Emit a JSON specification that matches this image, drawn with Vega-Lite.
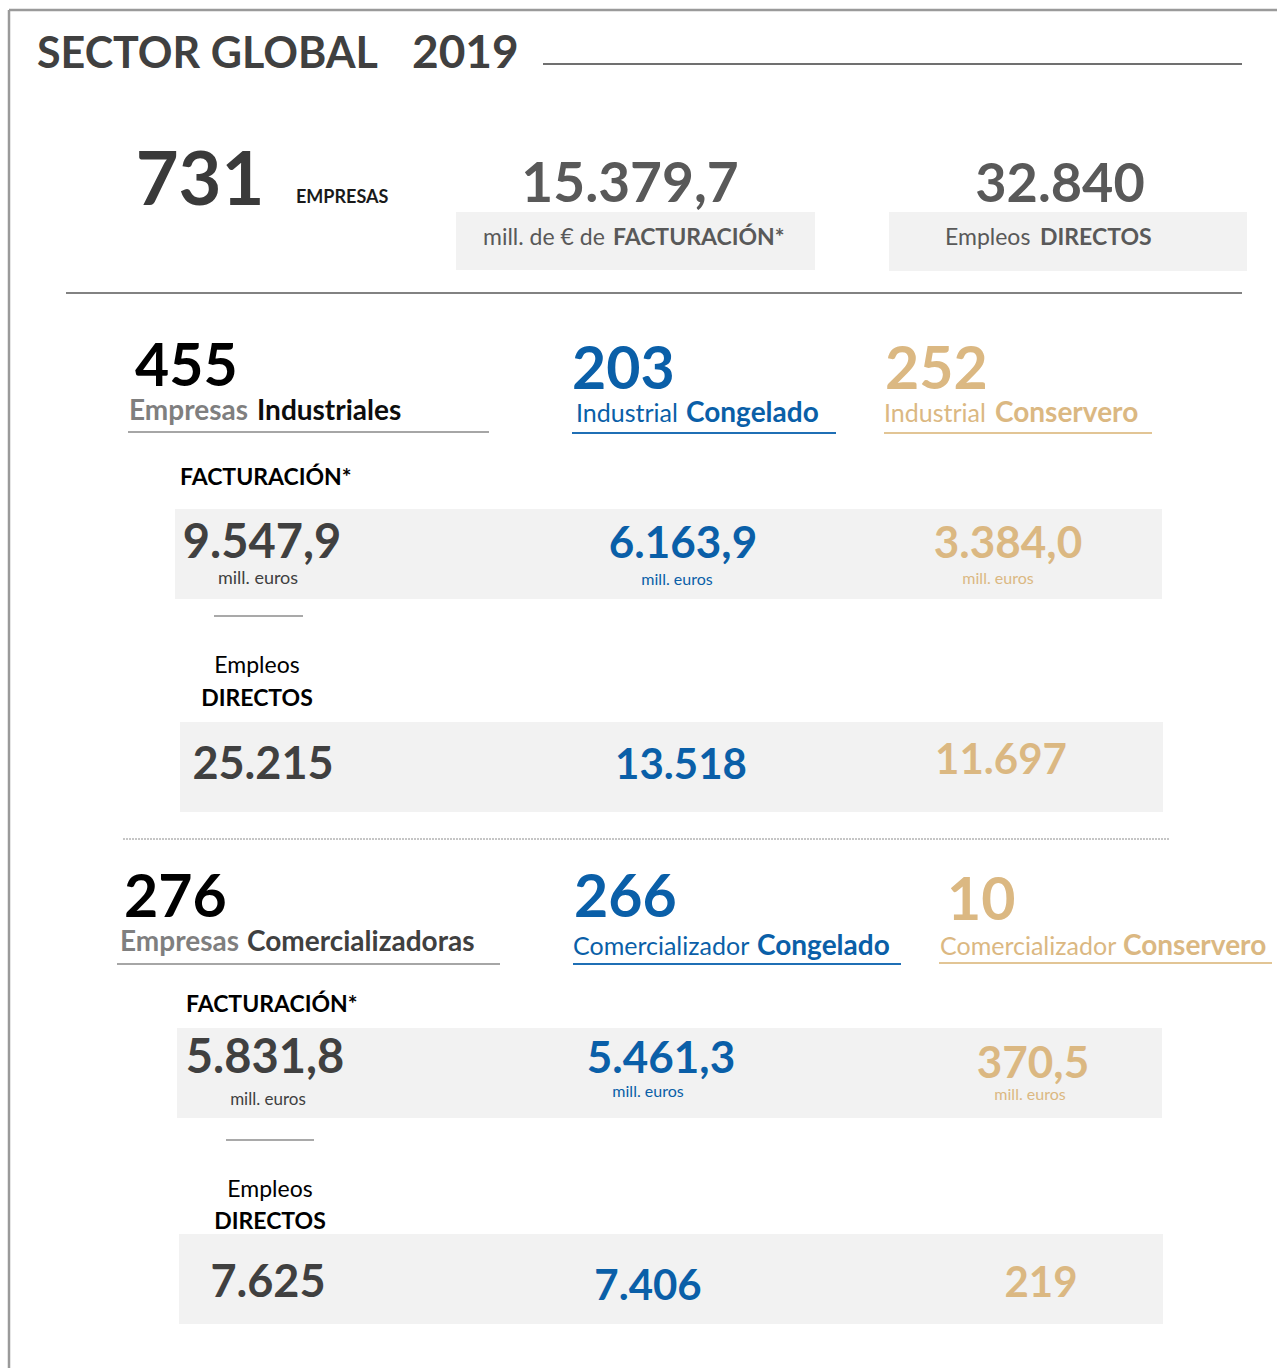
{
"$schema":"https://vega.github.io/schema/vega-lite/v6.json",
"width":1277,"height":1368,"autosize":"none","padding":0,"background":"white",
"config":{"view":{"stroke":null},"axis":{"disable":true},"text":{"font":"Lato"},
"locale":{"number":{"decimal":",","thousands":".","grouping":[3],"currency":[""," €"]}}},
"datasets":{
"portada":[{"titulo":"SECTOR GLOBAL","anio":"2019"}],
"global":[{"indicador":"Empresas","valor":731},{"indicador":"Facturación","valor":15379.7},{"indicador":"Empleos","valor":32840}],
"grupos":[
{"actividad":"Industrial","segmento":"Total","empresas":455,"facturacion":9547.9,"empleos":25215},
{"actividad":"Industrial","segmento":"Congelado","empresas":203,"facturacion":6163.9,"empleos":13518},
{"actividad":"Industrial","segmento":"Conservero","empresas":252,"facturacion":3384.0,"empleos":11697},
{"actividad":"Comercializador","segmento":"Total","empresas":276,"facturacion":5831.8,"empleos":7625},
{"actividad":"Comercializador","segmento":"Congelado","empresas":266,"facturacion":5461.3,"empleos":7406},
{"actividad":"Comercializador","segmento":"Conservero","empresas":10,"facturacion":370.5,"empleos":219}]},
"data":{"name":"portada"},
"layer":[
{"mark":{"type":"rect","color":"#f2f2f2"},"encoding":{"x":{"datum":456,"type":"quantitative","scale":{"domain":[0,1277]}},"x2":{"datum":815},"y":{"datum":212,"type":"quantitative","scale":{"domain":[1368,0]}},"y2":{"datum":270}}},
{"mark":{"type":"rect","color":"#f2f2f2"},"encoding":{"x":{"datum":889,"type":"quantitative","scale":{"domain":[0,1277]}},"x2":{"datum":1247},"y":{"datum":212,"type":"quantitative","scale":{"domain":[1368,0]}},"y2":{"datum":271}}},
{"mark":{"type":"rect","color":"#f2f2f2"},"encoding":{"x":{"datum":175,"type":"quantitative","scale":{"domain":[0,1277]}},"x2":{"datum":1162},"y":{"datum":509,"type":"quantitative","scale":{"domain":[1368,0]}},"y2":{"datum":599}}},
{"mark":{"type":"rect","color":"#f2f2f2"},"encoding":{"x":{"datum":180,"type":"quantitative","scale":{"domain":[0,1277]}},"x2":{"datum":1163},"y":{"datum":722,"type":"quantitative","scale":{"domain":[1368,0]}},"y2":{"datum":812}}},
{"mark":{"type":"rect","color":"#f2f2f2"},"encoding":{"x":{"datum":177,"type":"quantitative","scale":{"domain":[0,1277]}},"x2":{"datum":1162},"y":{"datum":1028,"type":"quantitative","scale":{"domain":[1368,0]}},"y2":{"datum":1118}}},
{"mark":{"type":"rect","color":"#f2f2f2"},"encoding":{"x":{"datum":179,"type":"quantitative","scale":{"domain":[0,1277]}},"x2":{"datum":1163},"y":{"datum":1234,"type":"quantitative","scale":{"domain":[1368,0]}},"y2":{"datum":1324}}},

{"mark":{"type":"rule","color":"#9a9a9a","strokeWidth":2.5},"encoding":{"x":{"datum":9,"type":"quantitative","scale":{"domain":[0,1277]}},"x2":{"datum":1277},"y":{"datum":10,"type":"quantitative","scale":{"domain":[1368,0]}}}},
{"mark":{"type":"rule","color":"#9a9a9a","strokeWidth":2.5},"encoding":{"x":{"datum":9,"type":"quantitative","scale":{"domain":[0,1277]}},"y":{"datum":10,"type":"quantitative","scale":{"domain":[1368,0]}},"y2":{"datum":1368}}},
{"mark":{"type":"rule","color":"#404040","strokeWidth":1.5},"encoding":{"x":{"datum":543,"type":"quantitative","scale":{"domain":[0,1277]}},"x2":{"datum":1242},"y":{"datum":64,"type":"quantitative","scale":{"domain":[1368,0]}}}},
{"mark":{"type":"rule","color":"#595959","strokeWidth":1.5},"encoding":{"x":{"datum":66,"type":"quantitative","scale":{"domain":[0,1277]}},"x2":{"datum":1242},"y":{"datum":293,"type":"quantitative","scale":{"domain":[1368,0]}}}},
{"mark":{"type":"rule","color":"#a6a6a6","strokeWidth":2},"encoding":{"x":{"datum":128,"type":"quantitative","scale":{"domain":[0,1277]}},"x2":{"datum":489},"y":{"datum":432,"type":"quantitative","scale":{"domain":[1368,0]}}}},
{"mark":{"type":"rule","color":"#1f6fb5","strokeWidth":2},"encoding":{"x":{"datum":572,"type":"quantitative","scale":{"domain":[0,1277]}},"x2":{"datum":836},"y":{"datum":433,"type":"quantitative","scale":{"domain":[1368,0]}}}},
{"mark":{"type":"rule","color":"#e2c595","strokeWidth":2},"encoding":{"x":{"datum":884,"type":"quantitative","scale":{"domain":[0,1277]}},"x2":{"datum":1152},"y":{"datum":433,"type":"quantitative","scale":{"domain":[1368,0]}}}},
{"mark":{"type":"rule","color":"#8c8c8c","strokeWidth":1.5},"encoding":{"x":{"datum":214,"type":"quantitative","scale":{"domain":[0,1277]}},"x2":{"datum":303},"y":{"datum":616,"type":"quantitative","scale":{"domain":[1368,0]}}}},
{"mark":{"type":"rule","color":"#8c8c8c","strokeWidth":1,"strokeDash":[2,1]},"encoding":{"x":{"datum":123,"type":"quantitative","scale":{"domain":[0,1277]}},"x2":{"datum":1170},"y":{"datum":839,"type":"quantitative","scale":{"domain":[1368,0]}}}},
{"mark":{"type":"rule","color":"#a6a6a6","strokeWidth":2},"encoding":{"x":{"datum":117,"type":"quantitative","scale":{"domain":[0,1277]}},"x2":{"datum":500},"y":{"datum":964,"type":"quantitative","scale":{"domain":[1368,0]}}}},
{"mark":{"type":"rule","color":"#1f6fb5","strokeWidth":2},"encoding":{"x":{"datum":573,"type":"quantitative","scale":{"domain":[0,1277]}},"x2":{"datum":901},"y":{"datum":964,"type":"quantitative","scale":{"domain":[1368,0]}}}},
{"mark":{"type":"rule","color":"#e2c595","strokeWidth":2},"encoding":{"x":{"datum":939,"type":"quantitative","scale":{"domain":[0,1277]}},"x2":{"datum":1272},"y":{"datum":963,"type":"quantitative","scale":{"domain":[1368,0]}}}},
{"mark":{"type":"rule","color":"#8c8c8c","strokeWidth":1.5},"encoding":{"x":{"datum":226,"type":"quantitative","scale":{"domain":[0,1277]}},"x2":{"datum":314},"y":{"datum":1140,"type":"quantitative","scale":{"domain":[1368,0]}}}},

{"mark":{"type":"text","align":"left","baseline":"alphabetic","fontSize":43,"fontWeight":"bold","color":"#404040"},"encoding":{"x":{"datum":37,"type":"quantitative","scale":{"domain":[0,1277]}},"y":{"datum":68,"type":"quantitative","scale":{"domain":[1368,0]}},"text":{"field":"titulo"}}},
{"mark":{"type":"text","align":"left","baseline":"alphabetic","fontSize":46,"fontWeight":"bold","color":"#404040"},"encoding":{"x":{"datum":412,"type":"quantitative","scale":{"domain":[0,1277]}},"y":{"datum":68,"type":"quantitative","scale":{"domain":[1368,0]}},"text":{"field":"anio"}}},

{"data":{"name":"global"},"transform":[{"filter":"datum.indicador=='Empresas'"}],"mark":{"type":"text","align":"center","baseline":"alphabetic","fontSize":74,"fontWeight":"bold","color":"#3a3a3a"},"encoding":{"x":{"datum":200,"type":"quantitative","scale":{"domain":[0,1277]}},"y":{"datum":205,"type":"quantitative","scale":{"domain":[1368,0]}},"text":{"field":"valor","type":"quantitative","format":",d"}}},
{"mark":{"type":"text","align":"left","baseline":"alphabetic","fontSize":18,"fontWeight":"bold","color":"#1a1a1a","text":"EMPRESAS"},"encoding":{"x":{"datum":296,"type":"quantitative","scale":{"domain":[0,1277]}},"y":{"datum":203,"type":"quantitative","scale":{"domain":[1368,0]}}}},
{"data":{"name":"global"},"transform":[{"filter":"datum.indicador=='Facturación'"}],"mark":{"type":"text","align":"center","baseline":"alphabetic","fontSize":55,"fontWeight":"bold","color":"#595959"},"encoding":{"x":{"datum":630,"type":"quantitative","scale":{"domain":[0,1277]}},"y":{"datum":202,"type":"quantitative","scale":{"domain":[1368,0]}},"text":{"field":"valor","type":"quantitative","format":",.1f"}}},
{"mark":{"type":"text","align":"left","baseline":"alphabetic","fontSize":23,"color":"#595959","text":"mill. de € de"},"encoding":{"x":{"datum":483,"type":"quantitative","scale":{"domain":[0,1277]}},"y":{"datum":245,"type":"quantitative","scale":{"domain":[1368,0]}}}},
{"mark":{"type":"text","align":"left","baseline":"alphabetic","fontSize":23,"fontWeight":"bold","color":"#595959","text":"FACTURACIÓN*"},"encoding":{"x":{"datum":613,"type":"quantitative","scale":{"domain":[0,1277]}},"y":{"datum":245,"type":"quantitative","scale":{"domain":[1368,0]}}}},
{"data":{"name":"global"},"transform":[{"filter":"datum.indicador=='Empleos'"}],"mark":{"type":"text","align":"center","baseline":"alphabetic","fontSize":54,"fontWeight":"bold","color":"#595959"},"encoding":{"x":{"datum":1060,"type":"quantitative","scale":{"domain":[0,1277]}},"y":{"datum":202,"type":"quantitative","scale":{"domain":[1368,0]}},"text":{"field":"valor","type":"quantitative","format":",d"}}},
{"mark":{"type":"text","align":"left","baseline":"alphabetic","fontSize":23,"color":"#595959","text":"Empleos"},"encoding":{"x":{"datum":945,"type":"quantitative","scale":{"domain":[0,1277]}},"y":{"datum":245,"type":"quantitative","scale":{"domain":[1368,0]}}}},
{"mark":{"type":"text","align":"left","baseline":"alphabetic","fontSize":23,"fontWeight":"bold","color":"#595959","text":"DIRECTOS"},"encoding":{"x":{"datum":1040,"type":"quantitative","scale":{"domain":[0,1277]}},"y":{"datum":245,"type":"quantitative","scale":{"domain":[1368,0]}}}},

{"data":{"name":"grupos"},"transform":[{"filter":"datum.actividad=='Industrial'&&datum.segmento=='Total'"}],"mark":{"type":"text","align":"left","baseline":"alphabetic","fontSize":59,"fontWeight":"bold","color":"#000000"},"encoding":{"x":{"datum":135,"type":"quantitative","scale":{"domain":[0,1277]}},"y":{"datum":386,"type":"quantitative","scale":{"domain":[1368,0]}},"text":{"field":"empresas","type":"quantitative","format":",d"}}},
{"mark":{"type":"text","align":"left","baseline":"alphabetic","fontSize":28,"fontWeight":"bold","color":"#7f7f7f","text":"Empresas"},"encoding":{"x":{"datum":129,"type":"quantitative","scale":{"domain":[0,1277]}},"y":{"datum":420,"type":"quantitative","scale":{"domain":[1368,0]}}}},
{"mark":{"type":"text","align":"left","baseline":"alphabetic","fontSize":28,"fontWeight":"bold","color":"#0d0d0d","text":"Industriales"},"encoding":{"x":{"datum":257,"type":"quantitative","scale":{"domain":[0,1277]}},"y":{"datum":420,"type":"quantitative","scale":{"domain":[1368,0]}}}},
{"data":{"name":"grupos"},"transform":[{"filter":"datum.actividad=='Industrial'&&datum.segmento=='Congelado'"}],"mark":{"type":"text","align":"left","baseline":"alphabetic","fontSize":59,"fontWeight":"bold","color":"#0a5fa8"},"encoding":{"x":{"datum":572,"type":"quantitative","scale":{"domain":[0,1277]}},"y":{"datum":389,"type":"quantitative","scale":{"domain":[1368,0]}},"text":{"field":"empresas","type":"quantitative","format":",d"}}},
{"mark":{"type":"text","align":"left","baseline":"alphabetic","fontSize":25,"color":"#0a5fa8","text":"Industrial"},"encoding":{"x":{"datum":576,"type":"quantitative","scale":{"domain":[0,1277]}},"y":{"datum":422,"type":"quantitative","scale":{"domain":[1368,0]}}}},
{"mark":{"type":"text","align":"left","baseline":"alphabetic","fontSize":28,"fontWeight":"bold","color":"#0a5fa8","text":"Congelado"},"encoding":{"x":{"datum":686,"type":"quantitative","scale":{"domain":[0,1277]}},"y":{"datum":422,"type":"quantitative","scale":{"domain":[1368,0]}}}},
{"data":{"name":"grupos"},"transform":[{"filter":"datum.actividad=='Industrial'&&datum.segmento=='Conservero'"}],"mark":{"type":"text","align":"left","baseline":"alphabetic","fontSize":59,"fontWeight":"bold","color":"#dbb882"},"encoding":{"x":{"datum":885,"type":"quantitative","scale":{"domain":[0,1277]}},"y":{"datum":389,"type":"quantitative","scale":{"domain":[1368,0]}},"text":{"field":"empresas","type":"quantitative","format":",d"}}},
{"mark":{"type":"text","align":"left","baseline":"alphabetic","fontSize":25,"color":"#dbb882","text":"Industrial"},"encoding":{"x":{"datum":884,"type":"quantitative","scale":{"domain":[0,1277]}},"y":{"datum":422,"type":"quantitative","scale":{"domain":[1368,0]}}}},
{"mark":{"type":"text","align":"left","baseline":"alphabetic","fontSize":28,"fontWeight":"bold","color":"#dbb882","text":"Conservero"},"encoding":{"x":{"datum":995,"type":"quantitative","scale":{"domain":[0,1277]}},"y":{"datum":422,"type":"quantitative","scale":{"domain":[1368,0]}}}},
{"mark":{"type":"text","align":"left","baseline":"alphabetic","fontSize":23,"fontWeight":"bold","color":"#000000","text":"FACTURACIÓN*"},"encoding":{"x":{"datum":180,"type":"quantitative","scale":{"domain":[0,1277]}},"y":{"datum":485,"type":"quantitative","scale":{"domain":[1368,0]}}}},
{"data":{"name":"grupos"},"transform":[{"filter":"datum.actividad=='Industrial'&&datum.segmento=='Total'"}],"mark":{"type":"text","align":"center","baseline":"alphabetic","fontSize":47,"fontWeight":"bold","color":"#404040"},"encoding":{"x":{"datum":262,"type":"quantitative","scale":{"domain":[0,1277]}},"y":{"datum":558,"type":"quantitative","scale":{"domain":[1368,0]}},"text":{"field":"facturacion","type":"quantitative","format":",.1f"}}},
{"mark":{"type":"text","align":"center","baseline":"alphabetic","fontSize":18,"color":"#404040","text":"mill. euros"},"encoding":{"x":{"datum":258,"type":"quantitative","scale":{"domain":[0,1277]}},"y":{"datum":584,"type":"quantitative","scale":{"domain":[1368,0]}}}},
{"data":{"name":"grupos"},"transform":[{"filter":"datum.actividad=='Industrial'&&datum.segmento=='Congelado'"}],"mark":{"type":"text","align":"center","baseline":"alphabetic","fontSize":44,"fontWeight":"bold","color":"#0a5fa8"},"encoding":{"x":{"datum":683,"type":"quantitative","scale":{"domain":[0,1277]}},"y":{"datum":558,"type":"quantitative","scale":{"domain":[1368,0]}},"text":{"field":"facturacion","type":"quantitative","format":",.1f"}}},
{"mark":{"type":"text","align":"center","baseline":"alphabetic","fontSize":16,"color":"#0a5fa8","text":"mill. euros"},"encoding":{"x":{"datum":677,"type":"quantitative","scale":{"domain":[0,1277]}},"y":{"datum":585,"type":"quantitative","scale":{"domain":[1368,0]}}}},
{"data":{"name":"grupos"},"transform":[{"filter":"datum.actividad=='Industrial'&&datum.segmento=='Conservero'"}],"mark":{"type":"text","align":"center","baseline":"alphabetic","fontSize":44,"fontWeight":"bold","color":"#dbb882"},"encoding":{"x":{"datum":1008,"type":"quantitative","scale":{"domain":[0,1277]}},"y":{"datum":558,"type":"quantitative","scale":{"domain":[1368,0]}},"text":{"field":"facturacion","type":"quantitative","format":",.1f"}}},
{"mark":{"type":"text","align":"center","baseline":"alphabetic","fontSize":16,"color":"#dbb882","text":"mill. euros"},"encoding":{"x":{"datum":998,"type":"quantitative","scale":{"domain":[0,1277]}},"y":{"datum":584,"type":"quantitative","scale":{"domain":[1368,0]}}}},
{"mark":{"type":"text","align":"center","baseline":"alphabetic","fontSize":23,"color":"#000000","text":"Empleos"},"encoding":{"x":{"datum":257,"type":"quantitative","scale":{"domain":[0,1277]}},"y":{"datum":673,"type":"quantitative","scale":{"domain":[1368,0]}}}},
{"mark":{"type":"text","align":"center","baseline":"alphabetic","fontSize":23,"fontWeight":"bold","color":"#000000","text":"DIRECTOS"},"encoding":{"x":{"datum":257,"type":"quantitative","scale":{"domain":[0,1277]}},"y":{"datum":706,"type":"quantitative","scale":{"domain":[1368,0]}}}},
{"data":{"name":"grupos"},"transform":[{"filter":"datum.actividad=='Industrial'&&datum.segmento=='Total'"}],"mark":{"type":"text","align":"center","baseline":"alphabetic","fontSize":45,"fontWeight":"bold","color":"#404040"},"encoding":{"x":{"datum":263,"type":"quantitative","scale":{"domain":[0,1277]}},"y":{"datum":779,"type":"quantitative","scale":{"domain":[1368,0]}},"text":{"field":"empleos","type":"quantitative","format":",d"}}},
{"data":{"name":"grupos"},"transform":[{"filter":"datum.actividad=='Industrial'&&datum.segmento=='Congelado'"}],"mark":{"type":"text","align":"center","baseline":"alphabetic","fontSize":42,"fontWeight":"bold","color":"#0a5fa8"},"encoding":{"x":{"datum":681,"type":"quantitative","scale":{"domain":[0,1277]}},"y":{"datum":779,"type":"quantitative","scale":{"domain":[1368,0]}},"text":{"field":"empleos","type":"quantitative","format":",d"}}},
{"data":{"name":"grupos"},"transform":[{"filter":"datum.actividad=='Industrial'&&datum.segmento=='Conservero'"}],"mark":{"type":"text","align":"center","baseline":"alphabetic","fontSize":42,"fontWeight":"bold","color":"#dbb882"},"encoding":{"x":{"datum":1001,"type":"quantitative","scale":{"domain":[0,1277]}},"y":{"datum":774,"type":"quantitative","scale":{"domain":[1368,0]}},"text":{"field":"empleos","type":"quantitative","format":",d"}}},

{"data":{"name":"grupos"},"transform":[{"filter":"datum.actividad=='Comercializador'&&datum.segmento=='Total'"}],"mark":{"type":"text","align":"left","baseline":"alphabetic","fontSize":59,"fontWeight":"bold","color":"#000000"},"encoding":{"x":{"datum":124,"type":"quantitative","scale":{"domain":[0,1277]}},"y":{"datum":917,"type":"quantitative","scale":{"domain":[1368,0]}},"text":{"field":"empresas","type":"quantitative","format":",d"}}},
{"mark":{"type":"text","align":"left","baseline":"alphabetic","fontSize":28,"fontWeight":"bold","color":"#7f7f7f","text":"Empresas"},"encoding":{"x":{"datum":120,"type":"quantitative","scale":{"domain":[0,1277]}},"y":{"datum":951,"type":"quantitative","scale":{"domain":[1368,0]}}}},
{"mark":{"type":"text","align":"left","baseline":"alphabetic","fontSize":28,"fontWeight":"bold","color":"#404040","text":"Comercializadoras"},"encoding":{"x":{"datum":247,"type":"quantitative","scale":{"domain":[0,1277]}},"y":{"datum":951,"type":"quantitative","scale":{"domain":[1368,0]}}}},
{"data":{"name":"grupos"},"transform":[{"filter":"datum.actividad=='Comercializador'&&datum.segmento=='Congelado'"}],"mark":{"type":"text","align":"left","baseline":"alphabetic","fontSize":59,"fontWeight":"bold","color":"#0a5fa8"},"encoding":{"x":{"datum":574,"type":"quantitative","scale":{"domain":[0,1277]}},"y":{"datum":917,"type":"quantitative","scale":{"domain":[1368,0]}},"text":{"field":"empresas","type":"quantitative","format":",d"}}},
{"mark":{"type":"text","align":"left","baseline":"alphabetic","fontSize":25,"color":"#0a5fa8","text":"Comercializador"},"encoding":{"x":{"datum":573,"type":"quantitative","scale":{"domain":[0,1277]}},"y":{"datum":955,"type":"quantitative","scale":{"domain":[1368,0]}}}},
{"mark":{"type":"text","align":"left","baseline":"alphabetic","fontSize":28,"fontWeight":"bold","color":"#0a5fa8","text":"Congelado"},"encoding":{"x":{"datum":757,"type":"quantitative","scale":{"domain":[0,1277]}},"y":{"datum":955,"type":"quantitative","scale":{"domain":[1368,0]}}}},
{"data":{"name":"grupos"},"transform":[{"filter":"datum.actividad=='Comercializador'&&datum.segmento=='Conservero'"}],"mark":{"type":"text","align":"left","baseline":"alphabetic","fontSize":59,"fontWeight":"bold","color":"#dbb882"},"encoding":{"x":{"datum":947,"type":"quantitative","scale":{"domain":[0,1277]}},"y":{"datum":920,"type":"quantitative","scale":{"domain":[1368,0]}},"text":{"field":"empresas","type":"quantitative","format":",d"}}},
{"mark":{"type":"text","align":"left","baseline":"alphabetic","fontSize":25,"color":"#dbb882","text":"Comercializador"},"encoding":{"x":{"datum":940,"type":"quantitative","scale":{"domain":[0,1277]}},"y":{"datum":955,"type":"quantitative","scale":{"domain":[1368,0]}}}},
{"mark":{"type":"text","align":"left","baseline":"alphabetic","fontSize":28,"fontWeight":"bold","color":"#dbb882","text":"Conservero"},"encoding":{"x":{"datum":1123,"type":"quantitative","scale":{"domain":[0,1277]}},"y":{"datum":955,"type":"quantitative","scale":{"domain":[1368,0]}}}},
{"mark":{"type":"text","align":"left","baseline":"alphabetic","fontSize":23,"fontWeight":"bold","color":"#000000","text":"FACTURACIÓN*"},"encoding":{"x":{"datum":186,"type":"quantitative","scale":{"domain":[0,1277]}},"y":{"datum":1012,"type":"quantitative","scale":{"domain":[1368,0]}}}},
{"data":{"name":"grupos"},"transform":[{"filter":"datum.actividad=='Comercializador'&&datum.segmento=='Total'"}],"mark":{"type":"text","align":"center","baseline":"alphabetic","fontSize":47,"fontWeight":"bold","color":"#404040"},"encoding":{"x":{"datum":265,"type":"quantitative","scale":{"domain":[0,1277]}},"y":{"datum":1073,"type":"quantitative","scale":{"domain":[1368,0]}},"text":{"field":"facturacion","type":"quantitative","format":",.1f"}}},
{"mark":{"type":"text","align":"center","baseline":"alphabetic","fontSize":17,"color":"#404040","text":"mill. euros"},"encoding":{"x":{"datum":268,"type":"quantitative","scale":{"domain":[0,1277]}},"y":{"datum":1105,"type":"quantitative","scale":{"domain":[1368,0]}}}},
{"data":{"name":"grupos"},"transform":[{"filter":"datum.actividad=='Comercializador'&&datum.segmento=='Congelado'"}],"mark":{"type":"text","align":"center","baseline":"alphabetic","fontSize":44,"fontWeight":"bold","color":"#0a5fa8"},"encoding":{"x":{"datum":661,"type":"quantitative","scale":{"domain":[0,1277]}},"y":{"datum":1073,"type":"quantitative","scale":{"domain":[1368,0]}},"text":{"field":"facturacion","type":"quantitative","format":",.1f"}}},
{"mark":{"type":"text","align":"center","baseline":"alphabetic","fontSize":16,"color":"#0a5fa8","text":"mill. euros"},"encoding":{"x":{"datum":648,"type":"quantitative","scale":{"domain":[0,1277]}},"y":{"datum":1097,"type":"quantitative","scale":{"domain":[1368,0]}}}},
{"data":{"name":"grupos"},"transform":[{"filter":"datum.actividad=='Comercializador'&&datum.segmento=='Conservero'"}],"mark":{"type":"text","align":"center","baseline":"alphabetic","fontSize":44,"fontWeight":"bold","color":"#dbb882"},"encoding":{"x":{"datum":1033,"type":"quantitative","scale":{"domain":[0,1277]}},"y":{"datum":1078,"type":"quantitative","scale":{"domain":[1368,0]}},"text":{"field":"facturacion","type":"quantitative","format":",.1f"}}},
{"mark":{"type":"text","align":"center","baseline":"alphabetic","fontSize":16,"color":"#dbb882","text":"mill. euros"},"encoding":{"x":{"datum":1030,"type":"quantitative","scale":{"domain":[0,1277]}},"y":{"datum":1100,"type":"quantitative","scale":{"domain":[1368,0]}}}},
{"mark":{"type":"text","align":"center","baseline":"alphabetic","fontSize":23,"color":"#000000","text":"Empleos"},"encoding":{"x":{"datum":270,"type":"quantitative","scale":{"domain":[0,1277]}},"y":{"datum":1197,"type":"quantitative","scale":{"domain":[1368,0]}}}},
{"mark":{"type":"text","align":"center","baseline":"alphabetic","fontSize":23,"fontWeight":"bold","color":"#000000","text":"DIRECTOS"},"encoding":{"x":{"datum":270,"type":"quantitative","scale":{"domain":[0,1277]}},"y":{"datum":1229,"type":"quantitative","scale":{"domain":[1368,0]}}}},
{"data":{"name":"grupos"},"transform":[{"filter":"datum.actividad=='Comercializador'&&datum.segmento=='Total'"}],"mark":{"type":"text","align":"center","baseline":"alphabetic","fontSize":45,"fontWeight":"bold","color":"#404040"},"encoding":{"x":{"datum":268,"type":"quantitative","scale":{"domain":[0,1277]}},"y":{"datum":1297,"type":"quantitative","scale":{"domain":[1368,0]}},"text":{"field":"empleos","type":"quantitative","format":",d"}}},
{"data":{"name":"grupos"},"transform":[{"filter":"datum.actividad=='Comercializador'&&datum.segmento=='Congelado'"}],"mark":{"type":"text","align":"center","baseline":"alphabetic","fontSize":42,"fontWeight":"bold","color":"#0a5fa8"},"encoding":{"x":{"datum":648,"type":"quantitative","scale":{"domain":[0,1277]}},"y":{"datum":1300,"type":"quantitative","scale":{"domain":[1368,0]}},"text":{"field":"empleos","type":"quantitative","format":",d"}}},
{"data":{"name":"grupos"},"transform":[{"filter":"datum.actividad=='Comercializador'&&datum.segmento=='Conservero'"}],"mark":{"type":"text","align":"center","baseline":"alphabetic","fontSize":42,"fontWeight":"bold","color":"#dbb882"},"encoding":{"x":{"datum":1041,"type":"quantitative","scale":{"domain":[0,1277]}},"y":{"datum":1297,"type":"quantitative","scale":{"domain":[1368,0]}},"text":{"field":"empleos","type":"quantitative","format":",d"}}}
]
}
